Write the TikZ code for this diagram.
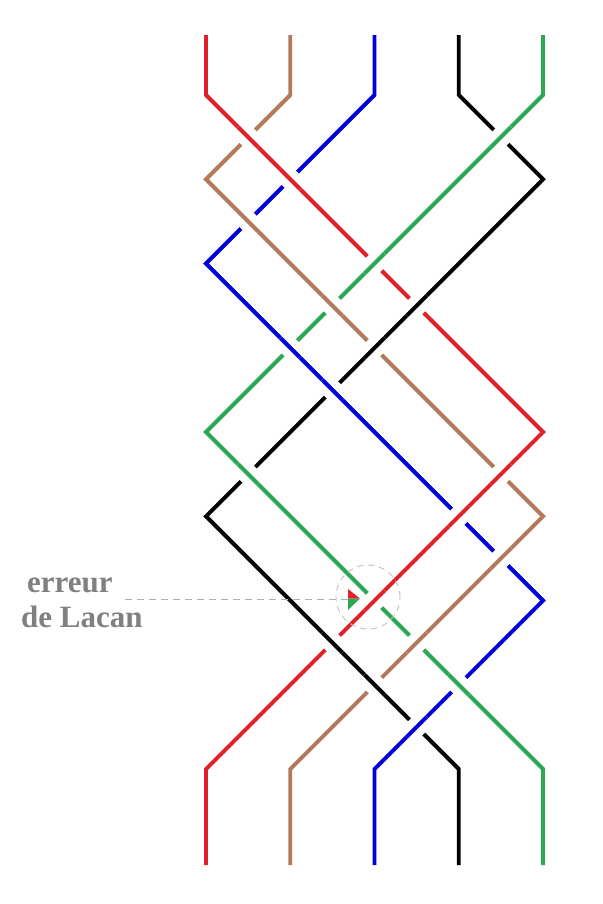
\documentclass[tikz,border=0pt]{standalone}
\usepackage{fontspec}
\setmainfont{Liberation Serif}
\definecolor{kred}{RGB}{226,32,42}
\definecolor{kbrown}{RGB}{178,122,90}
\definecolor{kblue}{RGB}{0,0,222}
\definecolor{kgreen}{RGB}{44,168,84}
\definecolor{kblack}{RGB}{0,0,0}
\definecolor{lblgrey}{RGB}{128,128,128}
\definecolor{dashgrey}{RGB}{175,175,175}
\definecolor{circgrey}{RGB}{200,190,180}
\begin{document}
\begin{tikzpicture}[x=1pt,y=-1pt,
  strand/.style={line width=3.9pt},
  halo/.style={line width=20pt,white},
  lbltext/.style={font=\bfseries\fontsize{31}{35}\selectfont,text=lblgrey,anchor=base west,inner sep=0pt},
  pointer/.style={draw=dashgrey,line width=0.9pt,dash pattern=on 7pt off 5pt},
  errcircle/.style={circle,draw=circgrey,line width=0.9pt,dash pattern=on 6pt off 5pt,minimum size=64pt,inner sep=0pt}]
\useasboundingbox (0,0) rectangle (602,904);
\begin{scope}[xshift=206pt,yshift=-95pt,x=84.25pt,y=-84.25pt]
  \draw[strand,kred]   (0,-0.712) -- (0,0) -- (4,4) -- (0,8) -- (0,9.14);
  \draw[strand,kbrown] (1,-0.712) -- (1,0) -- (0,1) -- (4,5) -- (1,8) -- (1,9.14);
  \draw[strand,kblue]  (2,-0.712) -- (2,0) -- (0,2) -- (4,6) -- (2,8) -- (2,9.14);
  \draw[strand,kblack] (3,-0.712) -- (3,0) -- (4,1) -- (0,5) -- (3,8) -- (3,9.14);
  \draw[strand,kgreen] (4,-0.712) -- (4,0) -- (0,4) -- (4,8) -- (4,9.14);
  \foreach \c/\x/\y/\s in {kred/0.5/0.5/1, kgreen/3.5/0.5/-1, kred/1/1/1, kbrown/0.5/1.5/1,
      kgreen/2/2/-1, kblack/2.5/2.5/-1, kbrown/1.5/2.5/1, kblue/1/3/1, kblack/2/3/-1,
      kblue/1.5/3.5/1, kgreen/0.5/4.5/1, kred/3/5/-1, kred/3.5/4.5/-1, kbrown/3.5/5.5/-1,
      kred/2/6/-1, kblack/1.5/6.5/1, kbrown/2.5/6.5/-1, kblack/2/7/1, kgreen/3/7/1, kblue/2.5/7.5/-1} {
    \draw[halo] ({\x-0.12*(\s)},{\y-0.12}) -- ({\x+0.12*(\s)},{\y+0.12});
    \draw[strand,\c] ({\x-0.12*(\s)},{\y-0.12}) -- ({\x+0.12*(\s)},{\y+0.12});
  }
\end{scope}
% Lacan's error marker
\fill[kred] (348,589) -- (360,598.5) -- (348,598.5) -- cycle;
\fill[kgreen] (348,598.5) -- (360,598.5) -- (348,610) -- cycle;
\coordinate (tri) at (348,599);
\coordinate (ptrstart) at (125,599);
\node[errcircle] (err) at (368,597) {};
\node[lbltext] (lbla) at (27,592) {erreur};
\node[lbltext] (lblb) at (21,627) {de Lacan};
\draw[pointer] (ptrstart) -- (tri);
\end{tikzpicture}
\end{document}
